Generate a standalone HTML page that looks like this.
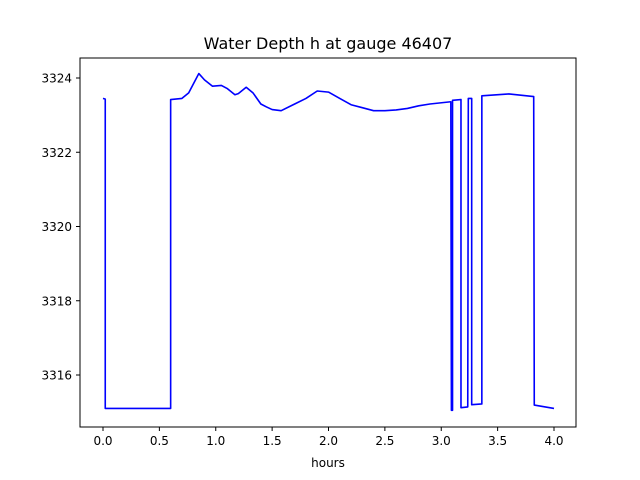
<!DOCTYPE html>
<html><head><meta charset="utf-8"><style>body{margin:0;background:#fff}svg{display:block}text{font-family:"DejaVu Sans","Liberation Sans",sans-serif}</style></head>
<body>
<svg id="chart" width="640" height="480" viewBox="0 0 640 480">
<rect x="0" y="0" width="640" height="480" fill="#fff"/>
<text x="328" y="49" font-size="16" text-anchor="middle">Water Depth h at gauge 46407</text>
<g id="plot"></g>
<rect x="80" y="58" width="496" height="369" fill="none" stroke="#000" stroke-width="1"/>
<g id="xt"></g><g id="yt"></g>
<text x="328" y="467" font-size="12" text-anchor="middle">hours</text>
</svg>
<script>
const times=[0,0.02,0.02,0.6,0.6,0.7,0.76,0.85,0.9,0.97,1.05,1.1,1.17,1.2,1.27,1.33,1.4,1.45,1.5,1.58,1.7,1.8,1.9,2.0,2.1,2.2,2.3,2.4,2.5,2.6,2.7,2.8,2.9,3.085,3.09,3.10,3.10,3.175,3.175,3.235,3.24,3.27,3.27,3.36,3.36,3.6,3.82,3.825,4.0];
const depths=[3323.45,3323.43,3315.1,3315.1,3323.42,3323.45,3323.6,3324.12,3323.95,3323.78,3323.8,3323.72,3323.55,3323.58,3323.75,3323.6,3323.3,3323.22,3323.15,3323.12,3323.3,3323.45,3323.65,3323.62,3323.45,3323.28,3323.2,3323.12,3323.12,3323.14,3323.18,3323.25,3323.3,3323.36,3315.05,3315.05,3323.4,3323.42,3315.12,3315.14,3323.45,3323.45,3315.2,3315.22,3323.52,3323.57,3323.5,3315.19,3315.1];
const xTicks=[0,0.5,1,1.5,2,2.5,3,3.5,4];
const xTickLabels=["0.0","0.5","1.0","1.5","2.0","2.5","3.0","3.5","4.0"];
const yTicks=[3316,3318,3320,3322,3324];
const yTickLabels=["3316","3318","3320","3322","3324"];
const NS="http://www.w3.org/2000/svg";
const X=t=>103+t*112.75;
const Y=h=>78+(3324-h)*37.125;
const plot=document.getElementById('plot');
const line=document.createElementNS(NS,'polyline');


line.setAttribute('points',times.map((t,i)=>X(t).toFixed(2)+','+Y(depths[i]).toFixed(2)).join(' '));
line.setAttribute('fill','none');line.setAttribute('stroke','#0000ff');line.setAttribute('stroke-width','1.6');line.setAttribute('stroke-linejoin','round');
plot.appendChild(line);
const xt=document.getElementById('xt');
xTicks.forEach((v,i)=>{
 const l=document.createElementNS(NS,'line');
 
 
 l.setAttribute('x1',X(v));l.setAttribute('x2',X(v));l.setAttribute('y1',427);l.setAttribute('y2',431);l.setAttribute('stroke','#000');
 xt.appendChild(l);
 const t=document.createElementNS(NS,'text');
 
 
 t.setAttribute('x',X(v));t.setAttribute('y',445);t.setAttribute('font-size','12');t.setAttribute('text-anchor','middle');
 t.textContent=xTickLabels[i];xt.appendChild(t);
});
const yt=document.getElementById('yt');
yTicks.forEach((v,i)=>{
 const l=document.createElementNS(NS,'line');
 
 
 l.setAttribute('x1',76);l.setAttribute('x2',80);l.setAttribute('y1',Y(v));l.setAttribute('y2',Y(v));l.setAttribute('stroke','#000');
 yt.appendChild(l);
 const t=document.createElementNS(NS,'text');
 
 
 t.setAttribute('x',72);t.setAttribute('y',Y(v)+4.5);t.setAttribute('font-size','12');t.setAttribute('text-anchor','end');
 t.textContent=yTickLabels[i];yt.appendChild(t);
});
</script>
</body></html>
